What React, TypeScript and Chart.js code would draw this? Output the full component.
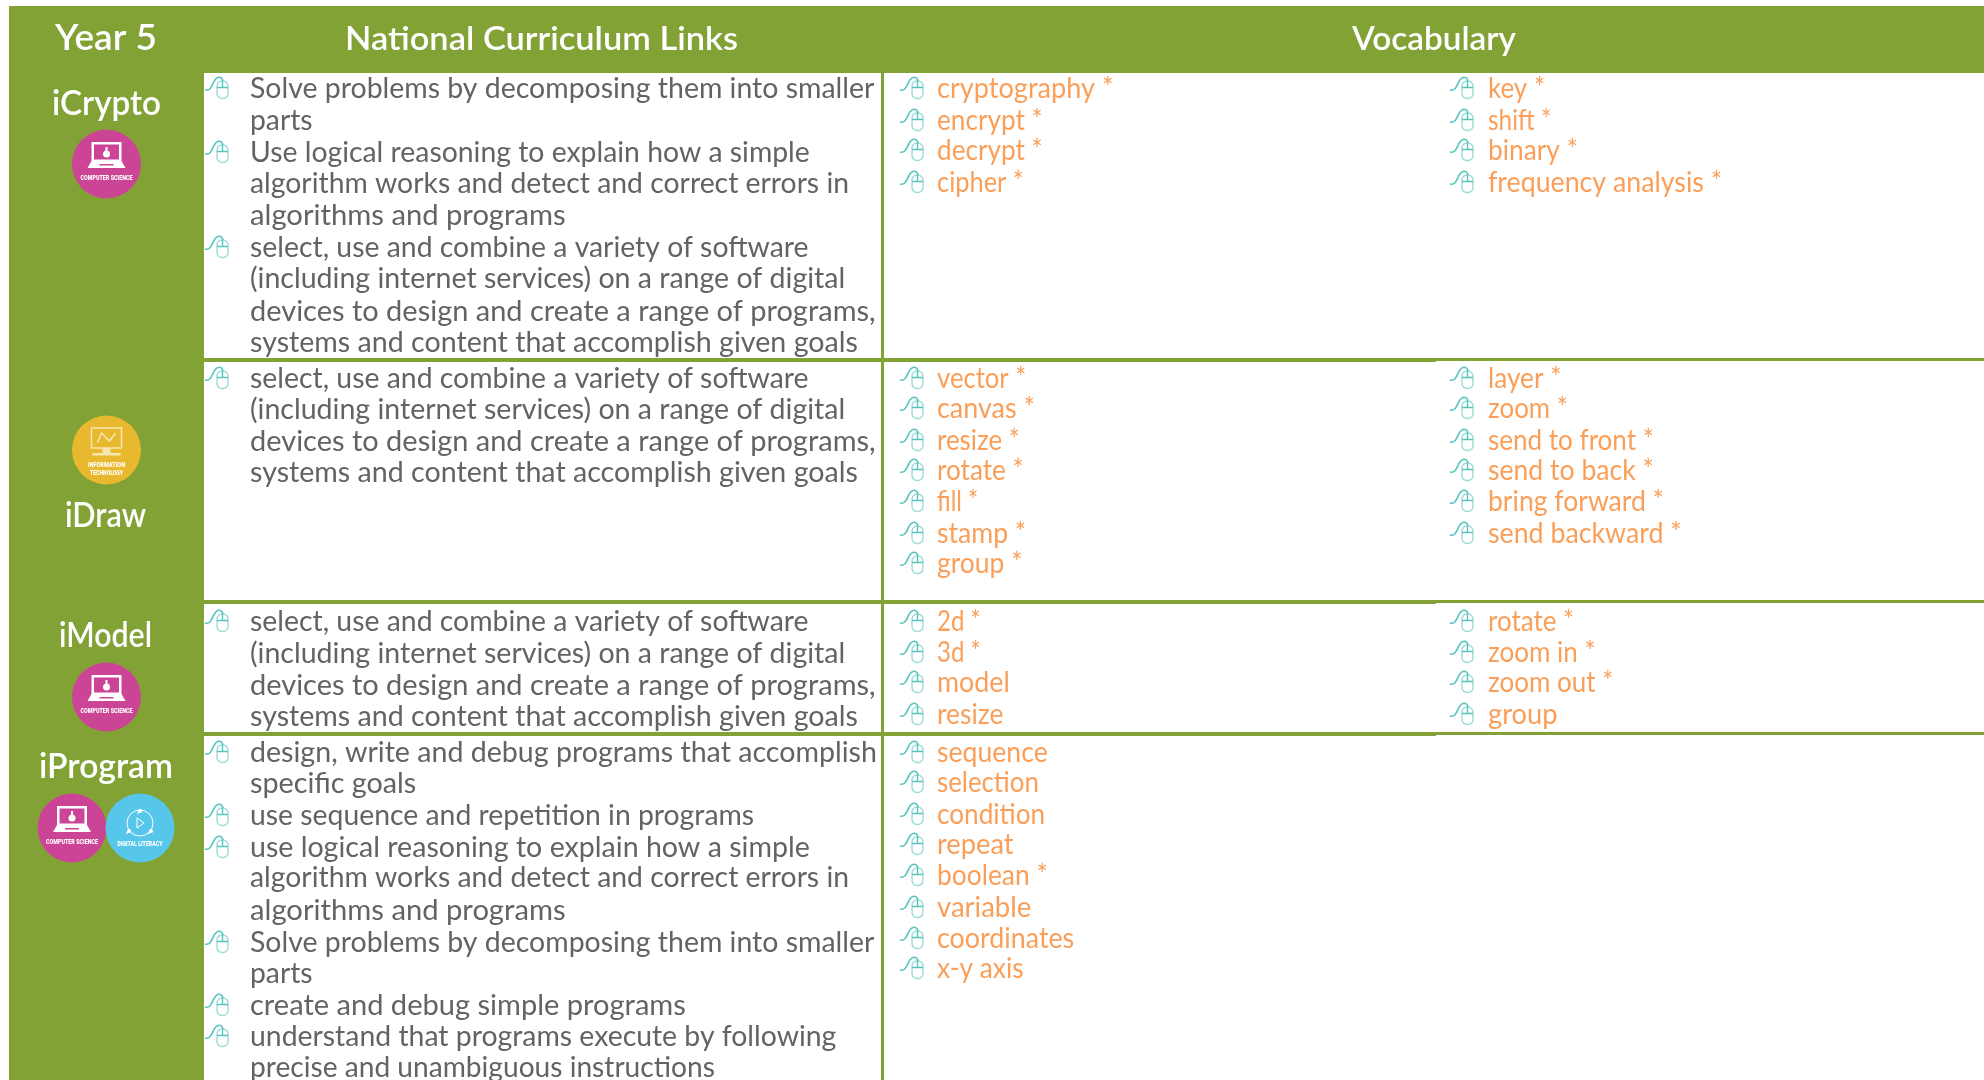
import React, { useEffect, useRef } from "react";
import { Chart, registerables } from "chart.js";

Chart.register(...registerables);

// ---------- content ----------
const yearTitle = "Year 5";
const columnTitles = ["National Curriculum Links", "Vocabulary"];
const unitNames = ["iCrypto", "iDraw", "iModel", "iProgram"];

const selectLinks = [
  "select, use and combine a variety of software",
  "(including internet services) on a range of digital",
  "devices to design and create a range of programs,",
  "systems and content that accomplish given goals",
];
const cryptoLinks = [
  ["Solve problems by decomposing them into smaller", "parts"],
  ["Use logical reasoning to explain how a simple", "algorithm works and detect and correct errors in", "algorithms and programs"],
  selectLinks,
];
const drawLinks = [selectLinks];
const modelLinks = [selectLinks];
const programLinks = [
  ["design, write and debug programs that accomplish", "specific goals"],
  ["use sequence and repetition in programs"],
  ["use logical reasoning to explain how a simple", "algorithm works and detect and correct errors in", "algorithms and programs"],
  ["Solve problems by decomposing them into smaller", "parts"],
  ["create and debug simple programs"],
  ["understand that programs execute by following", "precise and unambiguous instructions"],
];

const cryptoVocabA = ["cryptography *", "encrypt *", "decrypt *", "cipher *"];
const cryptoVocabB = ["key *", "shift *", "binary *", "frequency analysis *"];
const drawVocabA = ["vector *", "canvas *", "resize *", "rotate *", "fill *", "stamp *", "group *"];
const drawVocabB = ["layer *", "zoom *", "send to front *", "send to back *", "bring forward *", "send backward *"];
const modelVocabA = ["2d *", "3d *", "model", "resize"];
const modelVocabB = ["rotate *", "zoom in *", "zoom out *", "group"];
const programVocabA = ["sequence", "selection", "condition", "repeat", "boolean *", "variable", "coordinates", "x-y axis"];

// ---------- layout (in picture units, read through the chart's scales) ----------
const W = 1984, H = 1080;
const GREEN = "#82a236", GREY = "#636363", ORANGE = "#fa9f59";
const PINK = "#cc4496", BLUE = "#56c6ea", YELLOW = "#e8b92f";
const BODY = "400 28.5px Lato";
const U = 1984 / 1568;

const linkBaselines = [
  [98, 130, 162, 193, 225, 257, 288, 321, 352],
  [388, 419, 451, 482],
  [631, 663, 695, 726],
  [762, 793, 825, 857, 887, 920, 952, 983, 1015, 1046, 1077],
];
const linkEnds = [
  [691, 247, 640, 671, 447, 639, 668, 692, 678],
  [639, 668, 692, 678],
  [639, 668, 692, 678],
  [693, 329, 596, 640, 671, 447, 691, 247, 542, 661, 565],
];
const vocabBaselines = [
  [98, 130, 160, 192],
  [388, 418, 450, 480, 511, 543, 573],
  [631, 662, 692, 724],
  [762, 792, 824, 854, 885, 917, 948, 978],
];
const vocabEnds = [
  [[880, 824, 824, 809], [1221, 1226, 1247, 1361]],
  [[811, 818, 806, 809, 773, 811, 808], [1234, 1239, 1307, 1307, 1315, 1329]],
  [[775, 775, 798, 793], [1244, 1261, 1275, 1231]],
  [[828, 821, 826, 801, 828, 815, 849, 809], []],
];
const hLines = [358, 600, 732];

type Xf = (v: number) => number;

function fitText(ctx: CanvasRenderingContext2D, text: string, x0: number, x1: number, y: number) {
  const w = ctx.measureText(text).width;
  ctx.save();
  ctx.translate(x0, y);
  ctx.scale((x1 - x0) / w, 1);
  ctx.textAlign = "left";
  ctx.fillText(text, 0, 0);
  ctx.restore();
}

function mouse(ctx: CanvasRenderingContext2D, X: Xf, Y: Xf, x: number, base: number) {
  // x = left of the cable, base = bottom of the mouse
  ctx.save();
  ctx.lineWidth = 1.4;
  ctx.strokeStyle = "#9bdcd7";
  const bx = X(x + 12), by = Y(base - 17), bw = 11, bh = 17.5;
  ctx.beginPath();
  ctx.roundRect(bx, by, bw, bh, 5);
  ctx.stroke();
  ctx.strokeStyle = "#58c3bd";
  ctx.beginPath();
  ctx.moveTo(bx, by + 6.5);
  ctx.lineTo(bx + bw, by + 6.5);
  ctx.moveTo(bx + bw / 2, by);
  ctx.lineTo(bx + bw / 2, by + 6.5);
  ctx.stroke();
  ctx.lineWidth = 1.6;
  ctx.beginPath();
  ctx.moveTo(X(x), Y(base - 8));
  ctx.bezierCurveTo(X(x + 8), Y(base - 6), X(x + 7), Y(base - 19), X(x + 13), Y(base - 20.5));
  ctx.quadraticCurveTo(X(x + 17), Y(base - 21.5), X(x + 18), Y(base - 17));
  ctx.stroke();
  ctx.restore();
}

function disc(ctx: CanvasRenderingContext2D, X: Xf, Y: Xf, cx: number, cy: number, color: string) {
  ctx.fillStyle = color;
  ctx.beginPath();
  ctx.arc(X(cx), Y(cy), 34.5, 0, Math.PI * 2);
  ctx.fill();
}

function tiny(ctx: CanvasRenderingContext2D, text: string, cx: number, y: number, w: number) {
  ctx.font = "900 7.5px Roboto";
  ctx.fillStyle = "#fff";
  fitText(ctx, text, cx - w / 2, cx + w / 2, y);
}

function csBadge(ctx: CanvasRenderingContext2D, X: Xf, Y: Xf, cx: number, cy: number) {
  disc(ctx, X, Y, cx, cy, PINK);
  const x = X(cx), y = Y(cy);
  ctx.fillStyle = "#fff";
  ctx.fillRect(x - 15, y - 22, 30, 20);
  ctx.fillStyle = PINK;
  ctx.fillRect(x - 12.5, y - 19.5, 25, 15);
  ctx.fillStyle = "#fff";
  ctx.beginPath();
  ctx.arc(x, y - 10, 3.5, 0, Math.PI * 2);
  ctx.fill();
  ctx.fillRect(x - 1, y - 17, 2, 5);
  ctx.beginPath();
  ctx.moveTo(x - 15, y - 3);
  ctx.lineTo(x + 15, y - 3);
  ctx.lineTo(x + 19, y + 4);
  ctx.lineTo(x - 19, y + 4);
  ctx.closePath();
  ctx.fill();
  ctx.fillStyle = PINK;
  ctx.fillRect(x - 7, y + 0, 14, 1.5);
  tiny(ctx, "COMPUTER SCIENCE", cx, cy + 16, 52);
}

function itBadge(ctx: CanvasRenderingContext2D, X: Xf, Y: Xf, cx: number, cy: number) {
  disc(ctx, X, Y, cx, cy, YELLOW);
  const x = X(cx), y = Y(cy);
  ctx.strokeStyle = "#f6e6b0";
  ctx.lineWidth = 1.5;
  ctx.strokeRect(x - 15, y - 22, 30, 20);
  ctx.beginPath();
  ctx.moveTo(x - 9, y - 7);
  ctx.lineTo(x - 5, y - 17);
  ctx.lineTo(x + 3, y - 9);
  ctx.lineTo(x + 9, y - 17);
  ctx.stroke();
  ctx.fillStyle = "#f6e6b0";
  ctx.fillRect(x - 4, y - 2, 8, 5);
  ctx.fillRect(x - 14, y + 3, 28, 2.5);
  tiny(ctx, "INFORMATION", cx, cy + 17, 37);
  tiny(ctx, "TECHNOLOGY", cx, cy + 25, 33);
}

function dlBadge(ctx: CanvasRenderingContext2D, X: Xf, Y: Xf, cx: number, cy: number) {
  disc(ctx, X, Y, cx, cy, BLUE);
  const x = X(cx), y = Y(cy);
  ctx.strokeStyle = "#ffffff";
  ctx.lineWidth = 1;
  ctx.beginPath();
  ctx.arc(x, y - 5, 13, 0, Math.PI * 2);
  ctx.stroke();
  ctx.beginPath();
  ctx.moveTo(x - 3, y - 10);
  ctx.lineTo(x + 4, y - 5);
  ctx.lineTo(x - 3, y);
  ctx.closePath();
  ctx.stroke();
  ctx.fillStyle = "#fff";
  for (const [dx, dy] of [[0, -17], [-11, 3], [11, 3]]) {
    ctx.beginPath();
    ctx.arc(x + dx, y + dy, 2, 0, Math.PI * 2);
    ctx.arc(x + dx, y + dy + 3.5, 3, Math.PI, 0);
    ctx.fill();
  }
  tiny(ctx, "DIGITAL LITERACY", cx, cy + 18, 45);
}

const tablePlugin = {
  id: "curriculumTable",
  beforeDraw(chart: any) {
    const ctx: CanvasRenderingContext2D = chart.ctx;
    const X: Xf = (v) => chart.scales.x.getPixelForValue(v);
    const Y: Xf = (v) => chart.scales.y.getPixelForValue(v);
    const rect = (x0: number, y0: number, x1: number, y1: number, c: string) => {
      ctx.fillStyle = c;
      ctx.fillRect(X(x0), Y(y0), X(x1) - X(x0), Y(y1) - Y(y0));
    };
    ctx.save();
    rect(0, 0, W, H, "#ffffff");
    rect(9, 6, W, 73, GREEN);
    rect(9, 73, 204, H, GREEN);
    rect(881, 73, 884, H, GREEN);
    for (const y of hLines) {
      rect(204, y, 1436, y + 4, GREEN);
      rect(1436, y, W, y + 3, GREEN);
    }

    // headings
    ctx.fillStyle = "#ffffff";
    ctx.textBaseline = "alphabetic";
    ctx.font = "600 36px Lato";
    fitText(ctx, yearTitle, X(55), X(157), Y(50));
    ctx.font = "600 33px Lato";
    fitText(ctx, columnTitles[0], X(345), X(738), Y(50));
    fitText(ctx, columnTitles[1], X(1352), X(1516), Y(50));
    ctx.font = "600 35px Lato";
    fitText(ctx, unitNames[0], X(52), X(161), Y(115));
    fitText(ctx, unitNames[1], X(65), X(146), Y(527));
    fitText(ctx, unitNames[2], X(59), X(152), Y(647));
    fitText(ctx, unitNames[3], X(39), X(173), Y(778));

    // badges
    csBadge(ctx, X, Y, 106.5, 164);
    itBadge(ctx, X, Y, 106.5, 450);
    csBadge(ctx, X, Y, 106.5, 697);
    csBadge(ctx, X, Y, 72, 828);
    dlBadge(ctx, X, Y, 140, 828);

    // curriculum links
    ctx.textAlign = "left";
    const linkRows = [cryptoLinks, drawLinks, modelLinks, programLinks];
    linkRows.forEach((row, r) => {
      let i = 0;
      row.forEach((bullet) => {
        mouse(ctx, X, Y, 205, linkBaselines[r][i]);
        bullet.forEach((line) => {
          ctx.font = BODY;
          ctx.fillStyle = GREY;
          fitText(ctx, line, X(250), X(linkEnds[r][i] * U), Y(linkBaselines[r][i]));
          i++;
        });
      });
    });

    // vocabulary
    const vocabRows = [
      [cryptoVocabA, cryptoVocabB],
      [drawVocabA, drawVocabB],
      [modelVocabA, modelVocabB],
      [programVocabA, []],
    ];
    vocabRows.forEach((pair, r) => {
      pair.forEach((words, c) => {
        const iconX = c === 0 ? 900 : 1450;
        const textX = c === 0 ? 937 : 1488;
        words.forEach((word, i) => {
          mouse(ctx, X, Y, iconX, vocabBaselines[r][i]);
          ctx.font = BODY;
          ctx.fillStyle = ORANGE;
          fitText(ctx, word, X(textX), X(vocabEnds[r][c][i] * U), Y(vocabBaselines[r][i]));
        });
      });
    });
    ctx.restore();
  },
};

export default function App() {
  const ref = useRef<HTMLCanvasElement>(null);
  useEffect(() => {
    document.body.style.margin = "0";
    const chart = new Chart(ref.current!, {
      type: "scatter",
      data: { datasets: [{ data: [], pointRadius: 0 }] },
      options: {
        animation: false,
        responsive: false,
        layout: { padding: 0 },
        plugins: { legend: { display: false }, tooltip: { enabled: false } },
        scales: {
          x: { type: "linear", min: 0, max: W, display: false },
          y: { type: "linear", min: 0, max: H, reverse: true, display: false },
        },
      },
      plugins: [tablePlugin],
    });
    return () => chart.destroy();
  }, []);
  return (
    <div style={{ width: W, height: H }}>
      <canvas ref={ref} width={W} height={H} style={{ display: "block" }} />
    </div>
  );
}
